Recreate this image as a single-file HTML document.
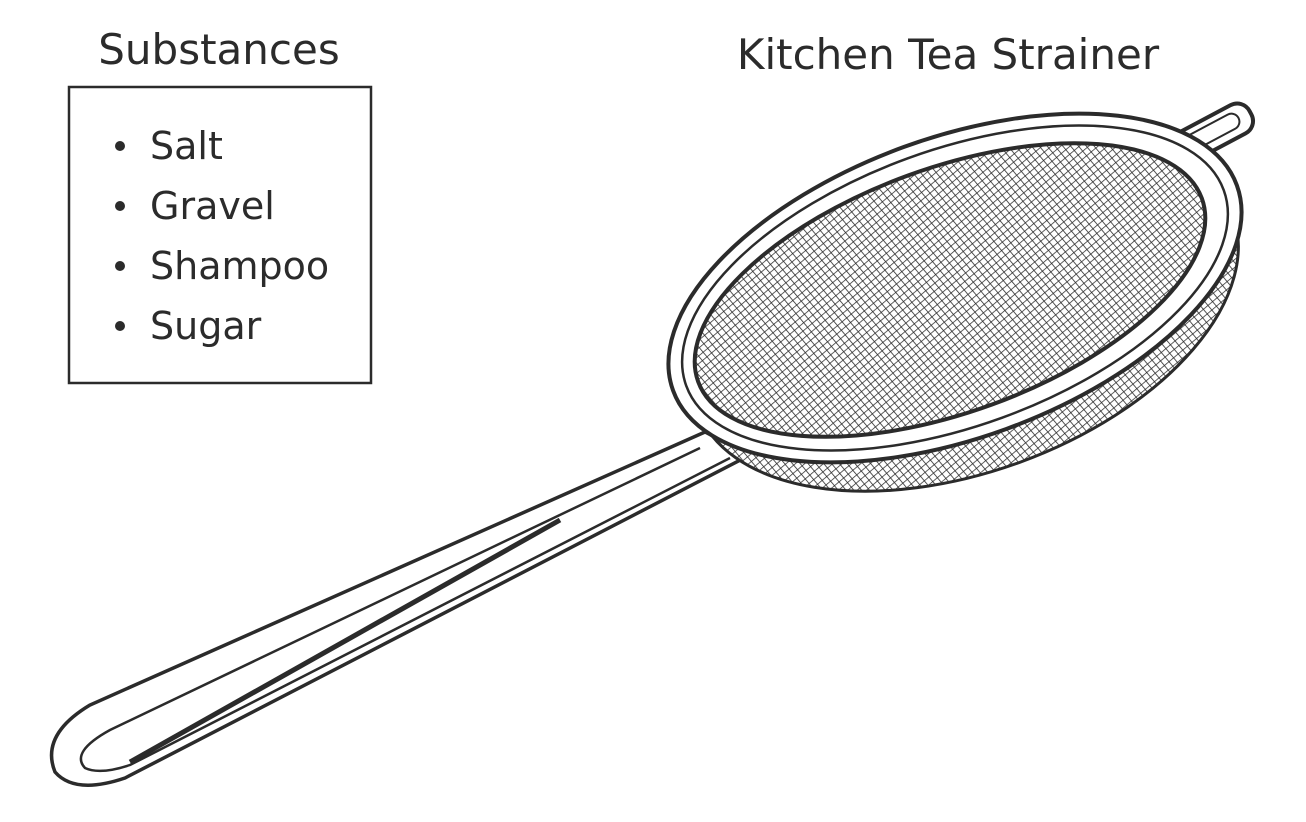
<!DOCTYPE html>
<html><head><meta charset="utf-8">
<style>
html,body{margin:0;padding:0;background:#fff;}
svg{display:block;}
text{font-family:"DejaVu Sans","Liberation Sans",sans-serif;fill:#2b2b2b;}
</style></head>
<body>
<svg width="1306" height="822" viewBox="0 0 1306 822">
<defs>
  <pattern id="mesh" width="6" height="6" patternUnits="userSpaceOnUse" patternTransform="rotate(-20)">
    <rect width="6" height="6" fill="#fff"/>
    <path d="M0 0H6M0 0V6" stroke="#2b2b2b" stroke-width="1.6"/>
  </pattern>
</defs>

<text x="219" y="64" font-size="42" text-anchor="middle">Substances</text>
<rect x="69" y="87" width="302" height="296" fill="none" stroke="#2b2b2b" stroke-width="2.5"/>
<g>
  <circle cx="120" cy="146" r="5" fill="#2b2b2b"/><text x="150" y="159" font-size="38">Salt</text>
  <circle cx="120" cy="206" r="5" fill="#2b2b2b"/><text x="150" y="219" font-size="38">Gravel</text>
  <circle cx="120" cy="266" r="5" fill="#2b2b2b"/><text x="150" y="279" font-size="38">Shampoo</text>
  <circle cx="120" cy="326" r="5" fill="#2b2b2b"/><text x="150" y="339" font-size="38">Sugar</text>
</g>

<text x="948" y="69" font-size="42" text-anchor="middle">Kitchen Tea Strainer</text>

<g>
  <g transform="rotate(-28 1212 132)">
    <rect x="1170" y="117" width="85" height="32" rx="14" fill="#fff" stroke="#2b2b2b" stroke-width="4"/>
    <rect x="1180" y="124" width="62" height="16" rx="8" fill="#fff" stroke="#2b2b2b" stroke-width="2"/>
  </g>
  <path d="M705,432 L90,705 Q40,735 55,772 Q75,795 125,778 L750,455 Z" fill="#fff" stroke="#2b2b2b" stroke-width="3.5"/>
  <path d="M700,448 L110,730 Q70,752 85,768 Q100,775 130,765 L730,458" fill="none" stroke="#2b2b2b" stroke-width="2.5"/>
  <path d="M560,520 L130,762" fill="none" stroke="#2b2b2b" stroke-width="5"/>
  <ellipse cx="965" cy="312" rx="285" ry="160" transform="rotate(-20 965 312)" fill="url(#mesh)" stroke="#2b2b2b" stroke-width="3"/>
  <ellipse cx="955" cy="288" rx="300" ry="150" transform="rotate(-20 955 288)" fill="#fff" stroke="#2b2b2b" stroke-width="4"/>
  <ellipse cx="955" cy="288" rx="286" ry="138" transform="rotate(-20 955 288)" fill="none" stroke="#2b2b2b" stroke-width="2.5"/>
  <ellipse cx="950" cy="290" rx="268" ry="122" transform="rotate(-20 950 290)" fill="url(#mesh)" stroke="#2b2b2b" stroke-width="4"/>
</g>
</svg>
</body></html>
